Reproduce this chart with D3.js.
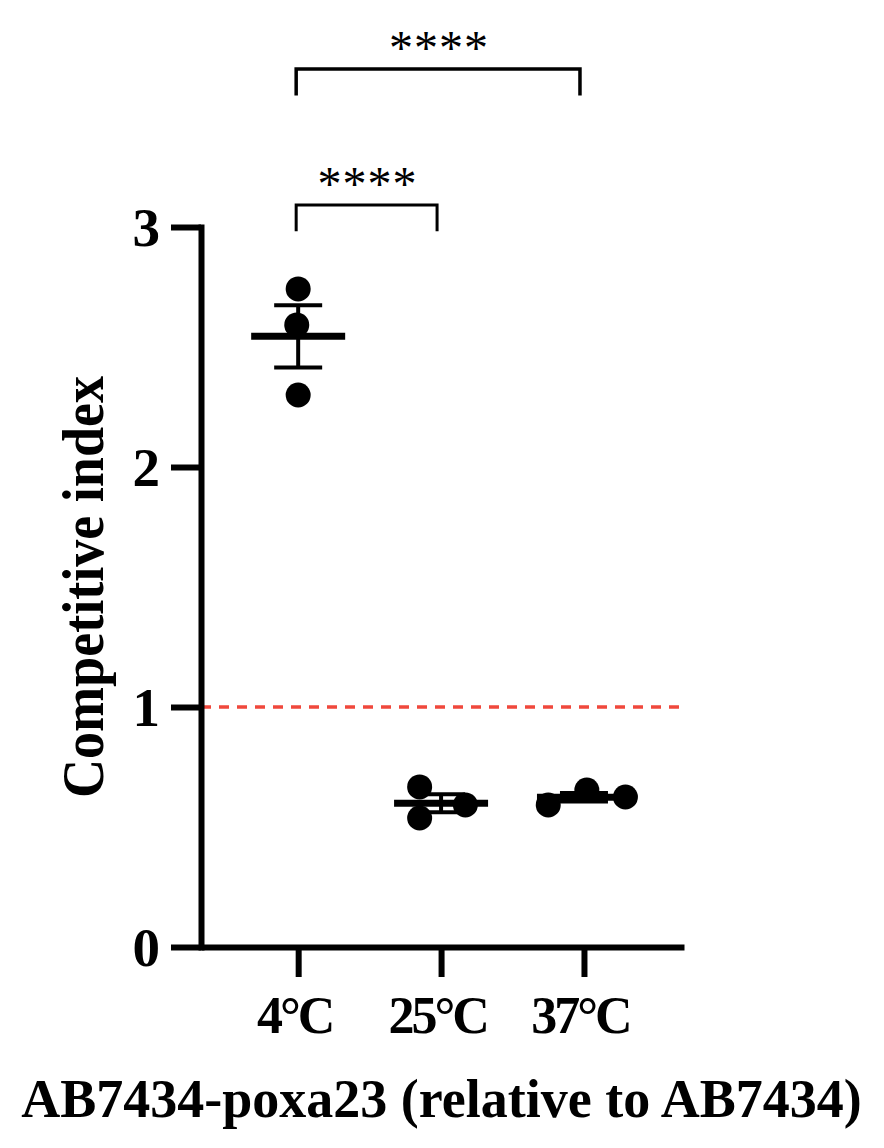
<!DOCTYPE html>
<html>
<head>
<meta charset="utf-8">
<script src="https://cdn.jsdelivr.net/npm/d3@7"></script>
<style>
  body { margin: 0; background: #fff; }
  svg text { font-family: "Liberation Serif", "Times New Roman", serif; font-weight: bold; fill: #000; }
</style>
</head>
<body>
<div id="chart"></div>
<script>
// groups on the x axis
var groups = ["4°C", "25°C", "37°C"];
// competitive index of the three replicates per group
var values = [
  [2.742, 2.592, 2.300],
  [0.667, 0.5375, 0.592],
  [0.592, 0.654, 0.625]
];
// horizontal scatter of each replicate, in x-axis units
var jitter = [
  [0.00, -0.01, 0.00],
  [-0.15, -0.15, 0.17],
  [-0.25, 0.02, 0.29]
];
var yTicks = [0, 1, 2, 3];
// significance brackets (group indexes)
var comparisons = [
  { a: 0, b: 2, label: "****" },
  { a: 0, b: 1, label: "****" }
];

var width = 884, height = 1148;

var svg = d3.select("#chart").append("svg")
    .attr("width", width)
    .attr("height", height);

var x = d3.scaleLinear().domain([0.32, 3.7]).range([201, 684]);
var y = d3.scaleLinear().domain([0, 3]).range([947, 227]);

// reference line at 1
svg.append("line")
    .attr("x1", x(0.32)).attr("x2", x(3.665))
    .attr("y1", y(1)).attr("y2", y(1))
    .attr("stroke", "#f0483c")
    .attr("stroke-width", 3.5)
    .attr("stroke-dasharray", "10,8");

// y axis
var yAxis = svg.append("g")
    .attr("transform", "translate(" + x(0.32) + ",0)")
    .call(d3.axisLeft(y).tickValues(yTicks).tickSize(30).tickSizeOuter(0).tickPadding(11).tickFormat(d3.format("d")));
yAxis.select(".domain").attr("stroke-width", 6).attr("stroke-linecap", "square");
yAxis.selectAll(".tick line").attr("stroke-width", 6);
yAxis.selectAll(".tick text").attr("font-size", 55).attr("dy", "0.33em");

// x axis
var xAxis = svg.append("g")
    .attr("transform", "translate(0," + y(0) + ")")
    .call(d3.axisBottom(x).tickValues([1, 2, 3]).tickSize(30).tickSizeOuter(0)
      .tickFormat(function (d) { return groups[d - 1]; }));
xAxis.select(".domain").attr("stroke-width", 6);
xAxis.selectAll(".tick line").attr("stroke-width", 6);
xAxis.selectAll(".tick text")
    .attr("y", 86)
    .attr("dy", 0)
    .attr("dx", -4)
    .attr("font-size", 52)
    .attr("letter-spacing", -3);

// mean and SEM for each group
var stats = values.map(function (v) {
  var m = d3.mean(v);
  return { mean: m, sem: d3.deviation(v) / Math.sqrt(v.length) };
});

var g = svg.append("g");
stats.forEach(function (s, i) {
  var cx = x(i + 1);
  g.append("line")
      .attr("x1", cx).attr("x2", cx)
      .attr("y1", y(s.mean - s.sem)).attr("y2", y(s.mean + s.sem))
      .attr("stroke", "#000").attr("stroke-width", 4);
  [s.mean - s.sem, s.mean + s.sem].forEach(function (e) {
    g.append("line")
        .attr("x1", cx - 24).attr("x2", cx + 24)
        .attr("y1", y(e)).attr("y2", y(e))
        .attr("stroke", "#000").attr("stroke-width", 4);
  });
  g.append("line")
      .attr("x1", cx - 47).attr("x2", cx + 47)
      .attr("y1", y(s.mean)).attr("y2", y(s.mean))
      .attr("stroke", "#000").attr("stroke-width", 7);
});

// the replicates
values.forEach(function (v, i) {
  g.selectAll(null)
      .data(v)
      .enter()
      .append("circle")
      .attr("cx", function (d, j) { return x(i + 1 + jitter[i][j]); })
      .attr("cy", function (d) { return y(d); })
      .attr("r", 12.5)
      .attr("fill", "#000");
});

// significance brackets
var bracketLevels = [3.658, 3.092];
var bracketDrop = 0.11;
comparisons.forEach(function (c, k) {
  var x1 = x(c.a + 1) - 2, x2 = x(c.b + 1) - 4;
  var top = y(bracketLevels[k]), bot = y(bracketLevels[k] - bracketDrop);
  svg.append("path")
      .attr("d", "M" + x1 + "," + bot + "V" + top + "H" + x2 + "V" + bot)
      .attr("fill", "none")
      .attr("stroke", "#000")
      .attr("stroke-width", k === 0 ? 3.5 : 3);
  svg.append("text")
      .attr("x", (x1 + x2) / 2 + 1)
      .attr("y", top - 5)
      .attr("text-anchor", "middle")
      .attr("font-size", 48)
      .attr("font-weight", "normal")
      .style("font-weight", "normal")
      .attr("letter-spacing", 1)
      .text(c.label);
});

// axis titles
svg.append("text")
    .attr("transform", "translate(103," + (y(1.5)) + ") rotate(-90)")
    .attr("text-anchor", "middle")
    .attr("font-size", 60)
    .attr("textLength", 422)
    .attr("lengthAdjust", "spacingAndGlyphs")
    .text("Competitive index");

svg.append("text")
    .attr("x", 441.5)
    .attr("y", 1117)
    .attr("text-anchor", "middle")
    .attr("font-size", 54)
    .text("AB7434-poxa23 (relative to AB7434)");
</script>
</body>
</html>
